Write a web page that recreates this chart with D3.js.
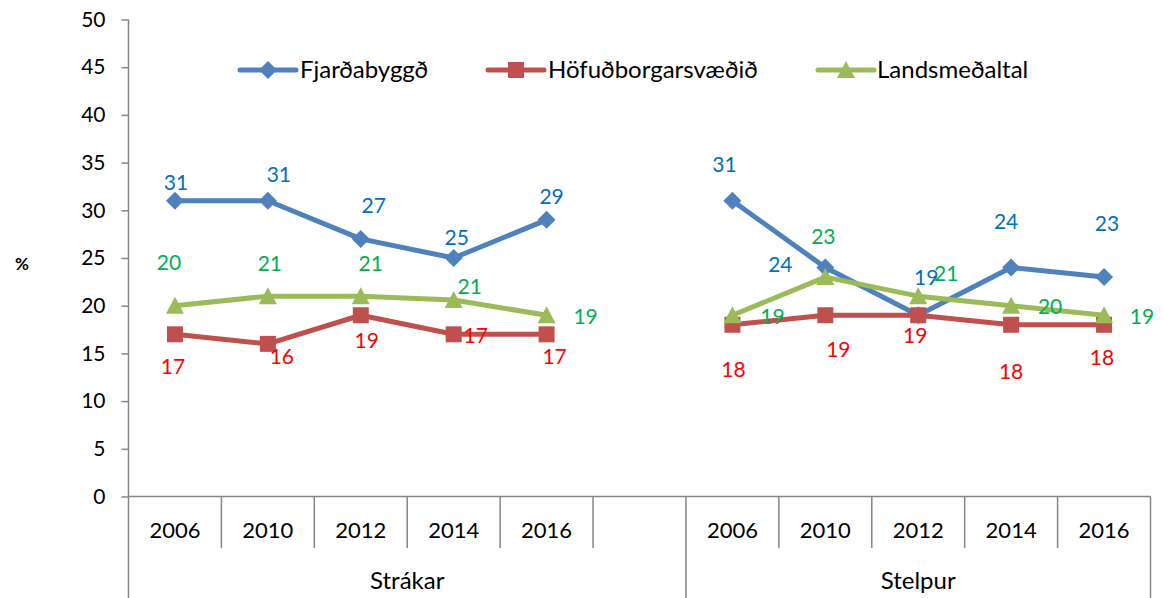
<!DOCTYPE html>
<html>
<head>
<meta charset="utf-8">
<script src="https://cdn.jsdelivr.net/npm/d3@7/dist/d3.min.js"></script>
<style>
  html, body { margin: 0; padding: 0; background: #fff; }
  svg { display: block; font-family: Lato, "Open Sans", sans-serif; }
</style>
</head>
<body>
<svg id="chart" width="1163" height="598"></svg>
<script>
// ---- data ----
const groups = ["Strákar", "Stelpur"];
const years = ["2006", "2010", "2012", "2014", "2016"];
// each group holds the five survey years; Strákar carries one empty slot as spacer
const groupSlots = [["2006", "2010", "2012", "2014", "2016", ""], ["2006", "2010", "2012", "2014", "2016"]];
const seriesNames = ["Fjarðabyggð", "Höfuðborgarsvæðið", "Landsmeðaltal"];
const fjardabyggdStrakar = [31, 31, 27, 25, 29];
const fjardabyggdStelpur = [31, 24, 19, 24, 23];
const hofudborgStrakar = [17, 16, 19, 17, 17];
const hofudborgStelpur = [18, 19, 19, 18, 18];
const landsStrakar = [20, 21, 21, 20.6, 19];
const landsStelpur = [19, 23, 21, 20, 19];
const yTicks = [0, 5, 10, 15, 20, 25, 30, 35, 40, 45, 50];

// ---- styling / layout ----
const lineColors = ["#4F81BD", "#C0504D", "#9BBB59"];
const labelColors = ["#0070C0", "#FF0000", "#00B050"];
const markerTypes = ["diamond", "square", "triangle"];
// label offsets (dx, dy) from each point, Strákar years then Stelpur years
const labelOffsets = [
  [[1,-18],[11,-26],[13,-33],[3,-20],[5,-23], [-8,-36],[-45,-3],[8,-38],[-5,-46],[3,-53]],
  [[-2,32],[14,13],[6,25],[22,1],[8,22], [1,45],[13,34],[-3,20],[0,47],[-2,33]],
  [[-6,-43],[2,-33],[10,-33],[16,-13],[39,1], [40,1],[-2,-40],[28,-23],[39,1],[38,1]]
];

const axisColor = "#868686";
const plotLeft = 128.5, plotRight = 1150.5, plotTop = 19.5, plotBottom = 496.5;
const yearRowBottom = 548, chartBottom = 598;
const numberFont = "21px", wordFont = "24px";

// ---- build category keys ----
const cats = [];
groups.forEach((g, gi) => groupSlots[gi].forEach(s => cats.push(g + "|" + s)));

const seriesValues = [
  [fjardabyggdStrakar, fjardabyggdStelpur],
  [hofudborgStrakar, hofudborgStelpur],
  [landsStrakar, landsStelpur]
];
const series = seriesValues.map((pair, si) => {
  const pts = [];
  groups.forEach((g, gi) => {
    groupSlots[gi].forEach(yr => {
      const yi = years.indexOf(yr);
      pts.push({ key: g + "|" + yr, value: yi >= 0 ? pair[gi][yi] : null });
    });
  });
  // attach label offsets to real points in order
  let n = 0;
  pts.forEach(p => { if (p.value != null) { p.off = labelOffsets[si][n++]; } });
  return { name: seriesNames[si], points: pts };
});

// ---- scales ----
const x = d3.scaleBand().domain(cats).range([plotLeft, plotRight]).padding(0);
const y = d3.scaleLinear().domain([0, 50]).range([plotBottom, plotTop]);
const cx = k => x(k) + x.bandwidth() / 2;

const svg = d3.select("#chart");

// ---- y axis ----
const yAxis = d3.axisLeft(y).tickValues(yTicks).tickSize(7).tickPadding(16).tickFormat(d3.format("d"));
const gy = svg.append("g").attr("transform", `translate(${plotLeft},0)`).call(yAxis);
gy.select(".domain").remove();
gy.selectAll(".tick line").attr("stroke", axisColor).attr("stroke-width", 1.5);
gy.selectAll(".tick text").attr("fill", "#000").style("font-size", numberFont).style("font-family", "Lato, sans-serif");

// vertical axis line running down through the category rows
svg.append("line").attr("x1", plotLeft).attr("x2", plotLeft).attr("y1", plotTop).attr("y2", chartBottom)
  .attr("stroke", axisColor).attr("stroke-width", 1.5);
// horizontal axis
svg.append("line").attr("x1", plotLeft).attr("x2", plotRight).attr("y1", plotBottom).attr("y2", plotBottom)
  .attr("stroke", axisColor).attr("stroke-width", 1.5);

// category separators
cats.forEach((k, i) => {
  if (i === 0) return;
  const xb = x(k);
  const isGroupEdge = k.split("|")[0] !== cats[i - 1].split("|")[0];
  svg.append("line").attr("x1", xb).attr("x2", xb).attr("y1", plotBottom)
    .attr("y2", isGroupEdge ? chartBottom : yearRowBottom)
    .attr("stroke", axisColor).attr("stroke-width", 1.5);
});
svg.append("line").attr("x1", plotRight).attr("x2", plotRight).attr("y1", plotBottom).attr("y2", chartBottom)
  .attr("stroke", axisColor).attr("stroke-width", 1.5);

// year labels
svg.append("g").selectAll("text").data(cats.filter(k => k.split("|")[1] !== "")).join("text")
  .attr("x", cx).attr("y", 530).attr("dy", "0.35em").attr("text-anchor", "middle")
  .style("font-size", "22px").attr("fill", "#000")
  .text(k => k.split("|")[1]);

// group labels
groups.forEach(g => {
  const ks = cats.filter(k => k.startsWith(g + "|"));
  const x0 = x(ks[0]), x1 = x(ks[ks.length - 1]) + x.bandwidth();
  svg.append("text").attr("x", (x0 + x1) / 2).attr("y", 581).attr("dy", "0.35em")
    .attr("text-anchor", "middle").style("font-size", wordFont).attr("fill", "#000").text(g);
});

// y axis title
svg.append("text").attr("x", 22).attr("y", 264).attr("dy", "0.35em").attr("text-anchor", "middle")
  .style("font-size", "17px").style("font-weight", "bold").attr("fill", "#000").text("%");

// ---- markers ----
function markerPath(type) {
  if (type === "diamond") return "M0,-9L9,0L0,9L-9,0Z";
  if (type === "square") return "M-8,-8H8V8H-8Z";
  return "M0,-9L9,8L-9,8Z";
}

// ---- series lines + markers ----
const line = d3.line().defined(d => d.value != null).x(d => cx(d.key)).y(d => y(d.value));
series.forEach((s, si) => {
  const g = svg.append("g");
  g.append("path").datum(s.points).attr("d", line).attr("fill", "none")
    .attr("stroke", lineColors[si]).attr("stroke-width", 5).attr("stroke-linejoin", "round");
  g.selectAll("path.m").data(s.points.filter(d => d.value != null)).join("path").attr("class", "m")
    .attr("d", markerPath(markerTypes[si]))
    .attr("transform", d => `translate(${cx(d.key)},${y(d.value)})`)
    .attr("fill", lineColors[si]);
});

// ---- data labels ----
const fmt = d3.format(".0f");
series.forEach((s, si) => {
  svg.append("g").selectAll("text").data(s.points.filter(d => d.value != null)).join("text")
    .attr("x", d => cx(d.key) + d.off[0]).attr("y", d => y(d.value) + d.off[1]).attr("dy", "0.35em")
    .attr("text-anchor", "middle").style("font-size", numberFont).attr("fill", labelColors[si])
    .text(d => fmt(d.value));
});

// ---- legend ----
const legendItems = [
  { x: 240, textX: 300 },
  { x: 488, textX: 548 },
  { x: 818, textX: 877 }
];
const legendY = 70;
const lg = svg.append("g");
seriesNames.forEach((name, i) => {
  const it = legendItems[i];
  lg.append("line").attr("x1", it.x).attr("x2", it.x + 56).attr("y1", legendY).attr("y2", legendY)
    .attr("stroke", lineColors[i]).attr("stroke-width", 5).attr("stroke-linecap", "round");
  lg.append("path").attr("d", markerPath(markerTypes[i]))
    .attr("transform", `translate(${it.x + 28},${legendY})`).attr("fill", lineColors[i]);
  lg.append("text").attr("x", it.textX).attr("y", legendY).attr("dy", "0.35em")
    .style("font-size", wordFont).attr("fill", "#000").text(name);
});
</script>
</body>
</html>
